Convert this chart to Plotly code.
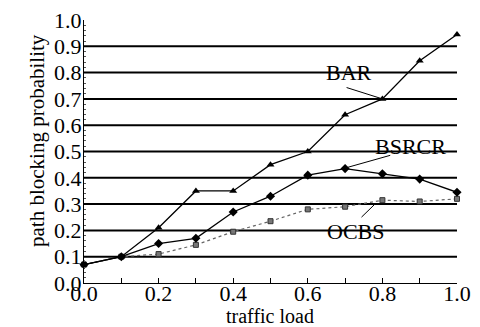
import plotly.graph_objects as go

load = [0.0, 0.1, 0.2, 0.3, 0.4, 0.5, 0.6, 0.7, 0.8, 0.9, 1.0]
bar = [0.07, 0.10, 0.21, 0.35, 0.35, 0.45, 0.50, 0.64, 0.70, 0.845, 0.945]
bsrcr = [0.07, 0.10, 0.15, 0.17, 0.27, 0.33, 0.41, 0.435, 0.415, 0.395, 0.345]
ocbs = [0.07, 0.10, 0.11, 0.145, 0.195, 0.235, 0.28, 0.29, 0.315, 0.31, 0.32]
y_ticks = [0.0, 0.1, 0.2, 0.3, 0.4, 0.5, 0.6, 0.7, 0.8, 0.9, 1.0]
x_ticks = [0.0, 0.2, 0.4, 0.6, 0.8, 1.0]

font = "Liberation Serif, Times New Roman, serif"
fig = go.Figure()

# horizontal grid lines as shapes (thick black)
for v in y_ticks[1:-1]:
    fig.add_shape(type="line", xref="x", yref="y", x0=0, x1=1.0, y0=v, y1=v,
                  line=dict(color="black", width=2), layer="below")

fig.add_trace(go.Scatter(x=load, y=ocbs, mode="lines+markers", cliponaxis=False,
                         line=dict(color="#666666", width=1.2, dash="dot"),
                         marker=dict(symbol="square", size=5, color="#777777",
                                     line=dict(color="#333333", width=1)),
                         showlegend=False))
fig.add_trace(go.Scatter(x=load, y=bsrcr, mode="lines+markers", cliponaxis=False,
                         line=dict(color="black", width=1.3),
                         marker=dict(symbol="diamond", size=7, color="black"),
                         showlegend=False))
fig.add_trace(go.Scatter(x=load, y=bar, mode="lines+markers", cliponaxis=False,
                         line=dict(color="black", width=1.3),
                         marker=dict(symbol="triangle-up", size=7, color="black"),
                         showlegend=False))

ann_font = dict(family=font, size=22, color="black")
fig.add_annotation(x=0.8, y=0.70, ax=0.70, ay=0.745, xref="x", yref="y",
                   axref="x", ayref="y", text="", showarrow=True,
                   arrowhead=0, arrowwidth=1, arrowcolor="black")
fig.add_annotation(x=0.71, y=0.80, text="BAR", showarrow=False, font=ann_font,
                   xref="x", yref="y")
fig.add_annotation(x=0.70, y=0.437, ax=0.825, ay=0.487, xref="x", yref="y",
                   axref="x", ayref="y", text="", showarrow=True,
                   arrowhead=0, arrowwidth=1, arrowcolor="black")
fig.add_annotation(x=0.875, y=0.52, text="BSRCR", showarrow=False, font=ann_font,
                   xref="x", yref="y")
fig.add_annotation(x=0.78, y=0.30, ax=0.74, ay=0.245, xref="x", yref="y",
                   axref="x", ayref="y", text="", showarrow=True,
                   arrowhead=0, arrowwidth=1, arrowcolor="black")
fig.add_annotation(x=0.727, y=0.195, text="OCBS", showarrow=False, font=ann_font,
                   xref="x", yref="y")

# axis titles as annotations (paper coords)
fig.add_annotation(x=0.4987, y=-0.126, xref="paper", yref="paper", text="traffic load",
                   showarrow=False, font=dict(family=font, size=20, color="black"),
                   xanchor="center", yanchor="middle")
fig.add_annotation(x=-0.126, y=0.54, xref="paper", yref="paper",
                   text="path blocking probability", textangle=-90,
                   showarrow=False, font=dict(family=font, size=21, color="black"),
                   xanchor="center", yanchor="middle")

fig.update_layout(
    width=480, height=327,
    margin=dict(l=84, r=23, t=20, b=44),
    paper_bgcolor="white", plot_bgcolor="white",
    font=dict(family=font, size=22, color="black"),
)
fig.update_xaxes(range=[0, 1.0], tickvals=x_ticks, ticktext=[f"{v:.1f}" for v in x_ticks],
                 automargin=False, ticklabelstandoff=-10,
                 showgrid=False, zeroline=False, showline=True, linecolor="black",
                 linewidth=1.2, ticks="inside", ticklen=5, tickcolor="black",
                 minor=dict(ticks="inside", ticklen=5, dtick=0.1, tickcolor="black"),
                 tickfont=dict(size=22))
fig.update_yaxes(range=[0, 1.0], tickvals=y_ticks, ticktext=[f"{v:.1f}" for v in y_ticks],
                 automargin=False, ticklabelstandoff=-3,
                 showgrid=False, zeroline=False, showline=True, linecolor="black",
                 linewidth=1.2, ticks="inside", ticklen=3, tickcolor="black",
                 minor=dict(ticks="inside", ticklen=2, dtick=0.02, tickcolor="#555555"),
                 tickfont=dict(size=22))

fig.write_html("out.html", config={"displayModeBar": False},
               post_script="document.body.style.margin='0';")
